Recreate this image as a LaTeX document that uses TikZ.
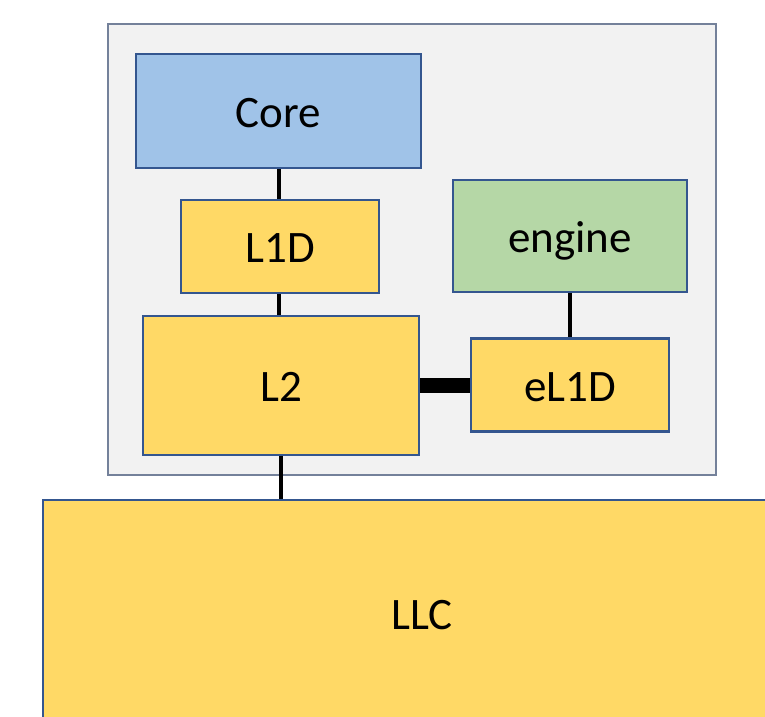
\documentclass[tikz,border=0pt]{standalone}
\usepackage{fontspec}
\setmainfont{Carlito}
\definecolor{panelfill}{HTML}{F2F2F2}
\definecolor{panelline}{HTML}{74819A}
\definecolor{boxline}{HTML}{34568F}
\definecolor{corefill}{HTML}{A0C3E8}
\definecolor{cachefill}{HTML}{FFD966}
\definecolor{enginefill}{HTML}{B5D7A6}
\tikzset{
  unit/.style={draw=boxline, line width=2.4pt, rectangle, inner sep=0pt,
    text height=32pt, text depth=0pt,
    font=\fontsize{45}{54}\selectfont, text=black},
  link/.style={line width=4.5pt, black},
  widelink/.style={line width=15pt, black},
}
\begin{document}
\begin{tikzpicture}[x=1pt, y=-1pt]
\useasboundingbox (0,0) rectangle (765,716);
\clip (0,0) rectangle (765,716);
% tile enclosing the core and its private caches
\node[draw=panelline, fill=panelfill, line width=1.6pt, rectangle, inner sep=0pt,
  minimum width=608pt, minimum height=451pt] (tile) at (412,249.5) {};
\node[unit, fill=corefill, minimum width=285pt, minimum height=114pt] (core) at (278.5,111) {Core};
\node[unit, fill=cachefill, minimum width=198pt, minimum height=93pt] (l1d) at (280,246.5) {L1D};
\node[unit, fill=cachefill, minimum width=276pt, minimum height=139pt] (l2) at (281,385.5) {L2};
\node[unit, fill=enginefill, minimum width=234pt, minimum height=112pt] (engine) at (570,236) {engine};
\node[unit, fill=cachefill, minimum width=198pt, minimum height=93pt] (el1d) at (570,385) {eL1D};
\node[unit, fill=cachefill, minimum width=758pt, minimum height=226pt] (llc) at (422,613) {LLC};
% interconnect
\draw[link] (core.south -| l1d.north) ++(-1,0) -- ([xshift=-1pt]l1d.north);
\draw[link] ([xshift=-1pt]l1d.south) -- ([xshift=-1pt]l1d.south |- l2.north);
\draw[link] (l2.south) -- (l2.south |- llc.north);
\draw[link] (engine.south) -- (el1d.north);
\draw[widelink] (l2.east) -- (l2.east -| el1d.west);
\end{tikzpicture}
\end{document}
